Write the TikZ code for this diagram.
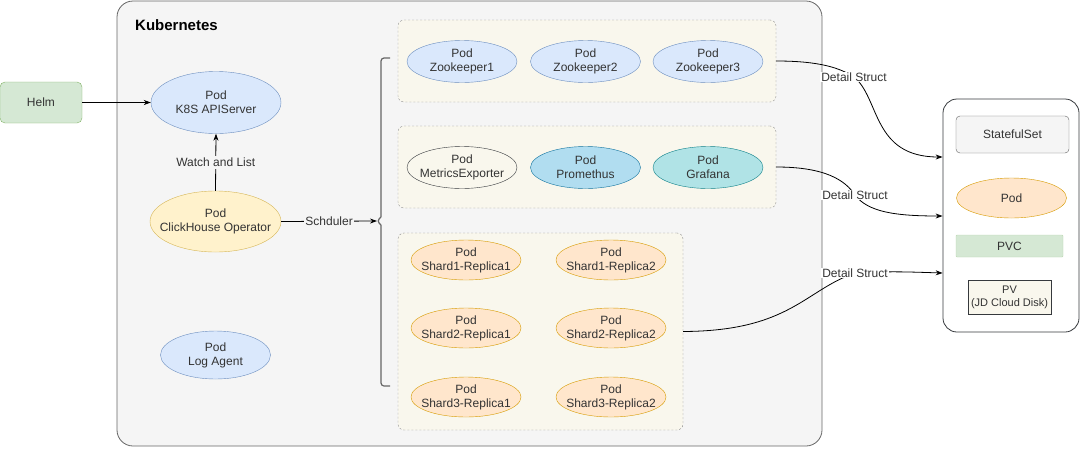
\documentclass[tikz,border=0pt]{standalone}
\usepackage{fontspec}
\setmainfont{Liberation Sans}
\usetikzlibrary{arrows.meta,shapes.geometric,positioning,calc}
\definecolor{txt}{HTML}{333333}
\definecolor{k8sfill}{HTML}{F5F5F5}
\definecolor{k8sline}{HTML}{666666}
\definecolor{grpfill}{HTML}{F9F7ED}
\definecolor{grpline}{HTML}{8C8C8C}
\definecolor{bluefill}{HTML}{DAE8FC}
\definecolor{blueline}{HTML}{6C8EBF}
\definecolor{yelfill}{HTML}{FFF2CC}
\definecolor{yelline}{HTML}{D6B656}
\definecolor{orafill}{HTML}{FFE6CC}
\definecolor{oraline}{HTML}{D79B00}
\definecolor{grnfill}{HTML}{D5E8D4}
\definecolor{grnline}{HTML}{82B366}
\definecolor{promfill}{HTML}{B1DDF0}
\definecolor{promline}{HTML}{10739E}
\definecolor{graffill}{HTML}{B0E3E6}
\definecolor{grafline}{HTML}{0E8088}
\definecolor{darkline}{HTML}{36393D}
\tikzset{
  base/.style={font=\fontsize{12}{14}\selectfont, text=txt, align=center, inner sep=0pt},
  pod/.style={base, ellipse, draw, inner xsep=-7pt, minimum width=#1, minimum height=42},
  pod/.default=110,
  bluepod/.style={pod, fill=bluefill, draw=blueline},
  orapod/.style={pod, fill=orafill, draw=oraline},
  grp/.style={draw=grpline, fill=grpfill, dashed, dash pattern=on 2pt off 2pt, rounded corners=6pt, inner sep=0pt},
  conn/.style={draw=black, line width=0.8pt, -{Stealth[length=7pt,width=5pt]}},
  lbl/.style={base, fill=white, inner sep=1pt},
}
\begin{document}
\begin{tikzpicture}[x=1pt,y=-1pt]
\useasboundingbox (0,0) rectangle (1080,448);
% Kubernetes outer box
\node[draw=k8sline, fill=k8sfill, line width=0.8pt, rounded corners=16pt, minimum width=705, minimum height=445, inner sep=0pt] (k8s) at (469.5,223.5) {};
\node[base, font=\fontsize{15}{18}\selectfont\bfseries, text=black, anchor=west] (k8stitle) at (135,25) {Kubernetes};

% Helm
\node[base, draw=grnline, fill=grnfill, rounded corners=5pt, minimum width=82, minimum height=41] (helm) at (41,102.5) {Helm};

% API Server
\node[pod=130, minimum height=62, fill=bluefill, draw=blueline] (api) at (216,102.5) {Pod\\K8S APIServer};
% Operator
\node[pod=131, inner xsep=-10pt, minimum height=61, fill=yelfill, draw=yelline] (op) at (215.5,221.5) {Pod\\ClickHouse Operator};
% Log agent
\node[pod=110, minimum height=48, fill=bluefill, draw=blueline] (log) at (215.5,355) {Pod\\Log Agent};

\draw[conn] (helm.east) -- (api.west);
\draw[conn] (op.north) -- node[lbl, fill=k8sfill, inner sep=2pt] (wl) {Watch and List} (api.south);

% bracket
\coordinate (brtop) at (390,58);
\coordinate (brmid) at (377,221);
\coordinate (brbot) at (390,386);
\draw[k8sline, line width=1.2pt, rounded corners=3pt] (brtop) -- (381,58) -- (381,217);
\draw[k8sline, line width=1.2pt, rounded corners=3pt] (381,217) -- (brmid) -- (381,225);
\draw[k8sline, line width=1.2pt, rounded corners=3pt] (381,225) -- (381,386) -- (brbot);
\draw[conn] (op.east) -- node[lbl, fill=k8sfill, inner sep=1pt] (sch) {Schduler} (brmid);

% groups
\node[grp, minimum width=378, minimum height=82] (g1) at (587,61) {};
\node[grp, minimum width=378, minimum height=82] (g2) at (587,167) {};
\node[grp, minimum width=285, minimum height=197] (g3) at (540.5,331.5) {};

\node[bluepod] (zk1) at (462,61.5) {Pod\\Zookeeper1};
\node[bluepod] (zk2) at (585.5,61.5) {Pod\\Zookeeper2};
\node[bluepod] (zk3) at (708,61.5) {Pod\\Zookeeper3};

\node[pod, fill=grpfill, draw=darkline] (me) at (462,167.5) {Pod\\MetricsExporter};
\node[pod, fill=promfill, draw=promline] (prom) at (585.5,167.5) {Pod\\Promethus};
\node[pod, fill=graffill, draw=grafline] (graf) at (708,167.5) {Pod\\Grafana};

\node[orapod, minimum height=40] (s11) at (466,260) {Pod\\Shard1-Replica1};
\node[orapod, minimum height=40] (s12) at (611,260) {Pod\\Shard1-Replica2};
\node[orapod, minimum height=40] (s21) at (466,328) {Pod\\Shard2-Replica1};
\node[orapod, minimum height=40] (s22) at (611,328) {Pod\\Shard2-Replica2};
\node[orapod, minimum height=40] (s31) at (466,397) {Pod\\Shard3-Replica1};
\node[orapod, minimum height=40] (s32) at (611,397) {Pod\\Shard3-Replica2};

% right box
\node[draw=darkline, fill=white, line width=0.8pt, rounded corners=14pt, minimum width=136, minimum height=233, inner sep=0pt] (rbox) at (1011,215.5) {};
\node[base, draw=k8sline, fill=k8sfill, rounded corners=4pt, minimum width=113, minimum height=37] (ss) at (1012.5,134.5) {StatefulSet};
\node[orapod=111, minimum height=40] (rpod) at (1011.5,198) {Pod};
\node[base, draw=grnfill!70!grnline, fill=grnfill, rounded corners=1pt, minimum width=107, minimum height=22] (pvc) at (1009.5,246) {PVC};
\node[base, font=\fontsize{11}{13}\selectfont, draw=darkline, fill=grpfill, minimum width=83, minimum height=34] (pv) at (1009.5,297) {PV\\(JD Cloud Disk)};

% detail struct connectors
\coordinate (w1) at (854,77);
\coordinate (w2) at (855,195);
\coordinate (w3) at (855,273);
\draw[conn] (g1.east) .. controls (820,61) and (840,68) .. (w1) .. controls (880,98) and (872,157) .. (rbox.west |- 0,157);
\draw[conn] (g2.east) .. controls (825,167) and (845,180) .. (w2) .. controls (868,212) and (895,216) .. (rbox.west |- 0,216);
\draw[conn] (g3.east) .. controls (790,331) and (805,290) .. (w3) .. controls (890,271) and (910,272) .. (rbox.west |- 0,273);
\node[lbl] (d1) at (w1) {Detail Struct};
\node[lbl] (d2) at (w2) {Detail Struct};
\node[lbl] (d3) at (w3) {Detail Struct};
\end{tikzpicture}
\end{document}
